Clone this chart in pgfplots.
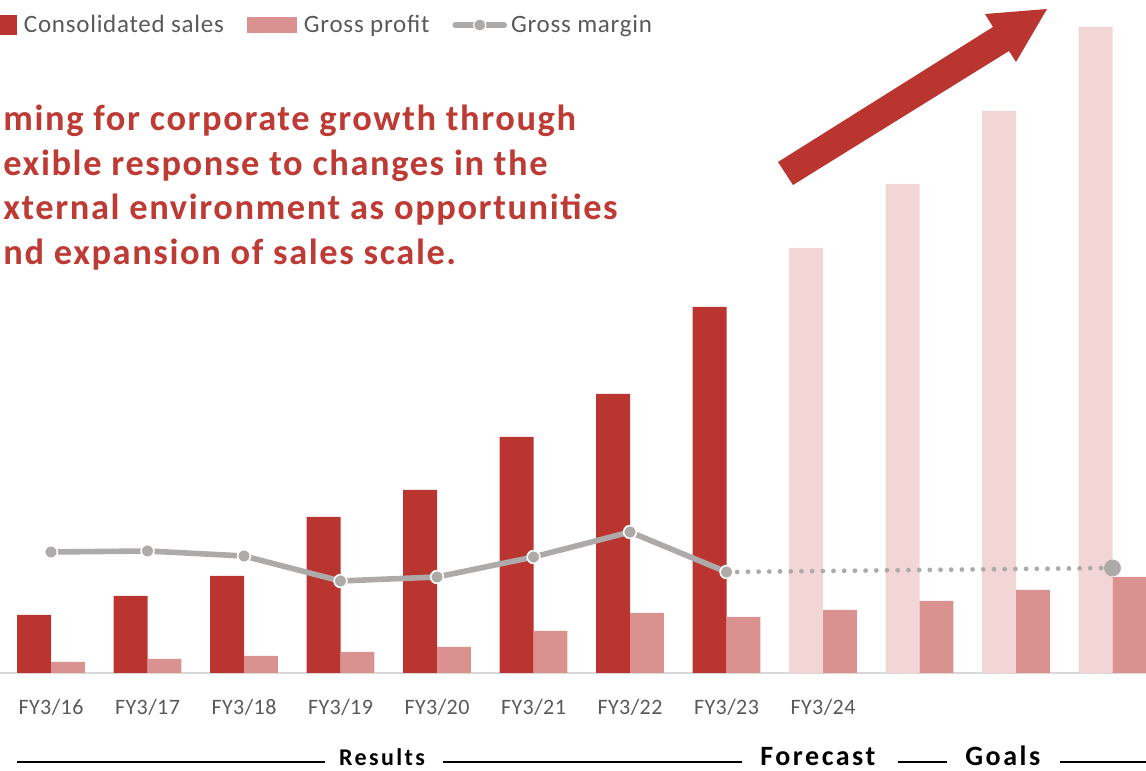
\documentclass[border=0pt]{standalone}
\usepackage{pgfplots}
\pgfplotsset{compat=1.18}
\usepackage{fontspec}
\setmainfont{Carlito}
\newfontfamily\headfont[LetterSpace=4.4]{Carlito}
\newfontfamily\tickfont[LetterSpace=2]{Carlito}
\newfontfamily\legfont[LetterSpace=3]{Carlito}
\newfontfamily\resfont[LetterSpace=10]{Carlito}
\newfontfamily\botfont[LetterSpace=9]{Carlito}
\definecolor{sales}{HTML}{BA3530}
\definecolor{salesfc}{HTML}{F2D5D5}
\definecolor{profit}{HTML}{D9928F}
\definecolor{linegray}{HTML}{AEAAAA}
\definecolor{textgray}{HTML}{595959}
\definecolor{headred}{HTML}{BE3A34}
\definecolor{baseline}{HTML}{D9D9D9}
\begin{document}
\begin{tikzpicture}
\begin{axis}[
  at={(0,0)}, anchor=south west, scale only axis,
  width=573pt, height=336.5pt,
  xmin=-0.5285, xmax=11.347, ymin=0, ymax=673,
  axis x line=bottom, axis y line=none,
  x axis line style={draw=baseline, line width=1pt, -},
  xtick={0,1,2,3,4,5,6,7,8},
  xticklabels={FY3/16,FY3/17,FY3/18,FY3/19,FY3/20,FY3/21,FY3/22,FY3/23,FY3/24},
  major tick length=0pt,
  xticklabel style={font=\tickfont\fontsize{11}{13}\selectfont, text=textgray, anchor=base, yshift=-20.5pt},
  ytick=\empty,
  legend columns=-1,
  legend cell align=left,
  legend style={draw=none, fill=none, inner sep=0pt, outer sep=0pt,
    at={(rel axis cs:-0.00262,0.96285)}, anchor=west,
    font=\legfont\fontsize{12.5}{14}\selectfont, text=textgray,
    nodes={inner xsep=0pt},
    /tikz/every odd column/.append style={column sep=3.5pt},
    /tikz/every even column/.append style={column sep=11.5pt}},
]
\addplot[ybar, bar width=0.352, bar shift=-0.176, fill=sales, draw=none,
  legend image code/.code={\fill[sales] (0pt,-5pt) rectangle (10pt,5pt);}]
  coordinates {(0,58) (1,77) (2,97) (3,156) (4,183) (5,236) (6,279) (7,366)};
\addlegendentry{Consolidated sales}
\addplot[ybar, bar width=0.352, bar shift=-0.176, fill=salesfc, draw=none, forget plot]
  coordinates {(8,425) (9,489) (10,562) (11,646)};
\addplot[ybar, bar width=0.352, bar shift=0.176, fill=profit, draw=none,
  legend image code/.code={\fill[profit] (0pt,-4pt) rectangle (25pt,4pt);}]
  coordinates {(0,11) (1,14) (2,17) (3,21) (4,26) (5,42) (6,60) (7,56) (8,63) (9,72) (10,83) (11,96)};
\addlegendentry{Gross profit}
\addplot[linegray, line width=2.4pt, dash pattern=on 0pt off 5.35pt, line cap=round, forget plot]
  coordinates {(7,101) (11,105)};
\addplot[linegray, line width=2.8pt, mark=*, mark size=3.2pt,
  mark options={draw=white, line width=0.8pt, fill=linegray},
  legend image code/.code={\draw[linegray, line width=2.8pt, line cap=round] (1pt,0pt) -- (25.5pt,0pt);
    \fill[linegray, draw=white, line width=0.6pt] (13.25pt,0pt) circle (3pt);}]
  coordinates {(0,121) (1,122) (2,117) (3,92) (4,96) (5,116) (6,141) (7,101)};
\addlegendentry{\hspace*{-1.5pt}Gross margin}
\addplot[only marks, mark=*, mark size=4pt, linegray, forget plot]
  coordinates {(11,105)};
\end{axis}
\begin{scope}[x=0.5pt, y=-0.5pt, yshift=336.5pt]
  % growth arrow
  \fill[sales] (778,162) -- (993,27) -- (985,14) -- (1047,9) -- (1016,62) -- (1009,51) -- (793,185) -- cycle;
  % heading
  \begin{scope}[every node/.style={anchor=base west, inner sep=0pt, text=headred, font=\headfont\bfseries\fontsize{18.2}{22}\selectfont}]
    \node at (3,131) {ming for corporate growth through};
    \node at (3,175.5) {exible response to changes in the};
    \node at (3,220) {xternal environment as opportunities};
    \node at (3,265) {nd expansion of sales scale.};
  \end{scope}
  % bottom bands
  \draw[line width=1pt] (17,762) -- (325,762);
  \draw[line width=1pt] (443,762) -- (742,762);
  \draw[line width=1pt] (898,762) -- (947,762);
  \draw[line width=1pt] (1060,762) -- (1150,762);
  \node[anchor=base, inner sep=0pt, font=\resfont\bfseries\fontsize{12}{14}\selectfont] at (382,765) {Results};
  \node[anchor=base west, inner sep=0pt, font=\botfont\bfseries\fontsize{14}{16}\selectfont] at (760,765) {Forecast};
  \node[anchor=base west, inner sep=0pt, font=\botfont\bfseries\fontsize{14}{16}\selectfont] at (965,765) {Goals};
\end{scope}
\pgfresetboundingbox
\useasboundingbox (0,-49pt) rectangle (573pt,336.5pt);
\end{tikzpicture}
\end{document}
